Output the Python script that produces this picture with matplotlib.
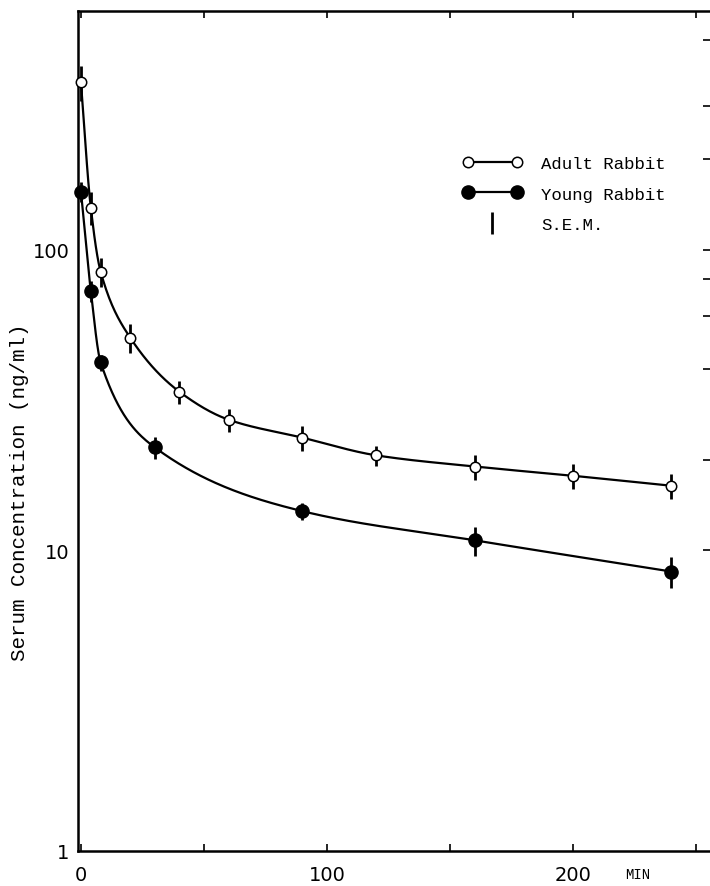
import matplotlib
matplotlib.use('Agg')
import matplotlib.pyplot as plt
import numpy as np
from matplotlib.lines import Line2D
from matplotlib.legend_handler import HandlerLine2D
from matplotlib.ticker import FixedLocator, NullLocator, NullFormatter

# Data (time in min, serum concentration in ng/ml, S.E.M.)
adult_t = [0, 4, 8, 20, 40, 60, 90, 120, 160, 200, 240]
adult_conc = [360, 138, 84.5, 51, 33.7, 27.2, 23.7, 20.7, 19.0, 17.7, 16.4]
adult_sem = [47, 17, 9.5, 5.8, 3.0, 2.4, 2.3, 1.6, 1.8, 1.7, 1.6]

young_t = [0, 4, 8, 30, 90, 160, 240]
young_conc = [156, 73, 42.2, 22.0, 13.5, 10.8, 8.5]
young_sem = [12, 5.8, 2.6, 1.9, 0.9, 1.2, 1.0]

x_ticks = [0, 100, 200]
x_minor = [50, 150, 250]
y_ticks = [1, 10, 100]
right_ticks = [10, 20, 40, 60, 80, 100, 200, 300, 500]

mono = 'Liberation Mono'


def smooth_curve(x, y, n=400):
    # monotone cubic (Fritsch-Carlson) through the points, in log space,
    # just to draw the hand-drawn looking connecting curve
    x = np.asarray(x, float)
    y = np.log10(np.asarray(y, float))
    h = np.diff(x)
    d = np.diff(y) / h
    m = np.zeros_like(y)
    m[0], m[-1] = d[0], d[-1]
    for i in range(1, len(x) - 1):
        if d[i - 1] * d[i] > 0:
            w1 = 2 * h[i] + h[i - 1]
            w2 = h[i] + 2 * h[i - 1]
            m[i] = (w1 + w2) / (w1 / d[i - 1] + w2 / d[i])
    xs = np.linspace(x[0], x[-1], n)
    k = np.clip(np.searchsorted(x, xs) - 1, 0, len(x) - 2)
    t = (xs - x[k]) / h[k]
    h00 = 2 * t**3 - 3 * t**2 + 1
    h10 = t**3 - 2 * t**2 + t
    h01 = -2 * t**3 + 3 * t**2
    h11 = t**3 - t**2
    ys = h00 * y[k] + h10 * h[k] * m[k] + h01 * y[k + 1] + h11 * h[k] * m[k + 1]
    return xs, 10 ** ys


fig = plt.figure(figsize=(7.1, 8.87), dpi=100)
ax = fig.add_axes([78 / 710, 35 / 887, 632 / 710, 840 / 887])

# curves
for t, c in [(adult_t, adult_conc), (young_t, young_conc)]:
    xs, ys = smooth_curve(t, c)
    ax.plot(xs, ys, color='black', lw=1.6, clip_on=False, zorder=2)

# error bars (S.E.M.)
ax.errorbar(adult_t, adult_conc, yerr=adult_sem, fmt='none', ecolor='black',
            elinewidth=2.0, capsize=0, clip_on=False, zorder=3)
ax.errorbar(young_t, young_conc, yerr=young_sem, fmt='none', ecolor='black',
            elinewidth=2.0, capsize=0, clip_on=False, zorder=3)

# points
ax.plot(adult_t, adult_conc, ls='none', marker='o', ms=7.5, mfc='white',
        mec='black', mew=1.1, clip_on=False, zorder=4)
ax.plot(young_t, young_conc, ls='none', marker='o', ms=9.5, mfc='black',
        mec='black', clip_on=False, zorder=4)

ax.set_yscale('log')
ax.set_xlim(-1.2, 255.7)
ax.set_ylim(1.0, 622)

ax.set_xticks(x_ticks)
ax.set_xticklabels([str(v) for v in x_ticks], fontsize=14)
ax.xaxis.set_minor_locator(FixedLocator(x_minor))
ax.set_yticks(y_ticks)
ax.set_yticklabels([str(v) for v in y_ticks], fontsize=14)
ax.yaxis.set_minor_locator(NullLocator())
ax.yaxis.set_minor_formatter(NullFormatter())

ax.tick_params(axis='x', which='both', direction='in', top=True, bottom=True,
               length=5, width=1.2, pad=10)
ax.tick_params(axis='y', which='both', direction='in', left=True, length=0, pad=6)

for side in ['left', 'bottom', 'top']:
    ax.spines[side].set_linewidth(1.8)
ax.spines['right'].set_visible(False)

# stray inward ticks on the right edge
sec = ax.secondary_yaxis('right')
sec.set_yscale('log')
sec.yaxis.set_major_locator(FixedLocator(right_ticks))
sec.yaxis.set_minor_locator(NullLocator())
sec.tick_params(direction='in', length=5, width=1.2, labelright=False)
sec.spines['right'].set_visible(False)

ax.text(0.885, -0.027, 'MIN', transform=ax.transAxes, ha='center', va='center',
        fontsize=10, family=mono)

fig.text(20 / 710, 1 - 492 / 887, 'Serum Concentration (ng/ml)', rotation=90,
         ha='center', va='center', fontsize=15, family=mono)

# legend
h_adult = Line2D([], [], color='black', lw=1.6, marker='o', ms=7.5, mfc='white',
                 mec='black', mew=1.1)
h_young = Line2D([], [], color='black', lw=1.6, marker='o', ms=9.5, mfc='black',
                 mec='black')
h_sem = Line2D([], [], color='black', lw=0, marker='|', ms=16, mew=2.0)
ax.legend([h_adult, h_young, h_sem], ['Adult Rabbit', 'Young Rabbit', 'S.E.M.'],
          handler_map={h_sem: HandlerLine2D(numpoints=1)},
          loc='upper left', bbox_to_anchor=(0.584, 0.846), frameon=False,
          numpoints=2, handlelength=3.4, handletextpad=1.1, labelspacing=0.88,
          prop={'family': mono, 'size': 12.5})

fig.savefig('out.png', dpi=100)
